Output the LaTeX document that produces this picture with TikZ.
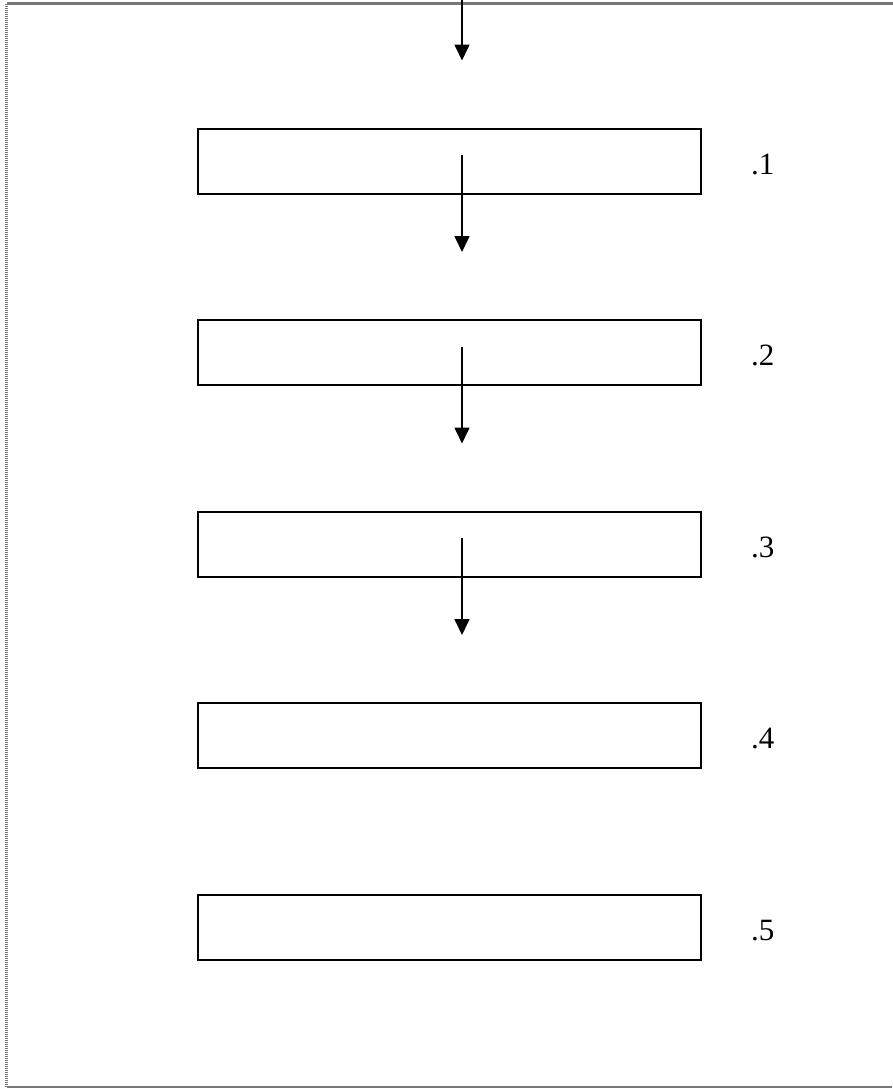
\documentclass[tikz,border=0pt]{standalone}
\usepackage{fontspec}
\setmainfont{Liberation Serif}
\usetikzlibrary{arrows.meta,positioning}
\definecolor{framegray}{RGB}{120,120,120}
\begin{document}
\begin{tikzpicture}
		[x=1pt,y=-1pt,
		mybox/.style={rectangle,draw,line width=2pt,minimum width=503pt,minimum height=65pt,inner sep=0pt,outer sep=0pt},
		myarrow/.style={line width=1.7pt,-{Triangle[length=16pt,width=15pt]}},
		framerule/.style={draw=framegray,line width=2.2pt},
		node distance=126.5pt]
		\useasboundingbox (0,0) rectangle (893,1090);
		% page frame
		\draw[framerule] (6.5,3.5) -- (893,3.5);
		\draw[framerule] (6.5,1087) -- (892,1087);
		\draw[framerule,line width=2.5pt,dash pattern=on 1pt off 1pt] (6.5,3.5) -- (6.5,1087);
		% boxes
		\node[mybox,name=b1] at (449.5,161) {};
		\node[mybox,name=b2,below=of b1] {};
		\node[mybox,name=b3,below=of b2] {};
		\node[mybox,name=b4,below=of b3] {};
		\node[mybox,name=b5,below=of b4] {};
		\coordinate (top) at (462,0);
		\draw[myarrow] (top) -- ([xshift=12.5pt,yshift=68pt]b1.north);
		\foreach \i/\j in {1/2,2/3,3/4}
		{
			\draw[myarrow] ([xshift=12.5pt,yshift=6pt]b\i.center) -- ([xshift=12.5pt,yshift=68pt]b\j.north);
		}
		\foreach \i in {1,...,5}
		{
			\node[anchor=base west,inner sep=0pt,font=\fontsize{31}{37}\selectfont] at ([xshift=50pt,yshift=-13pt]b\i.east) {.\i};
		}
	\end{tikzpicture}
\end{document}
